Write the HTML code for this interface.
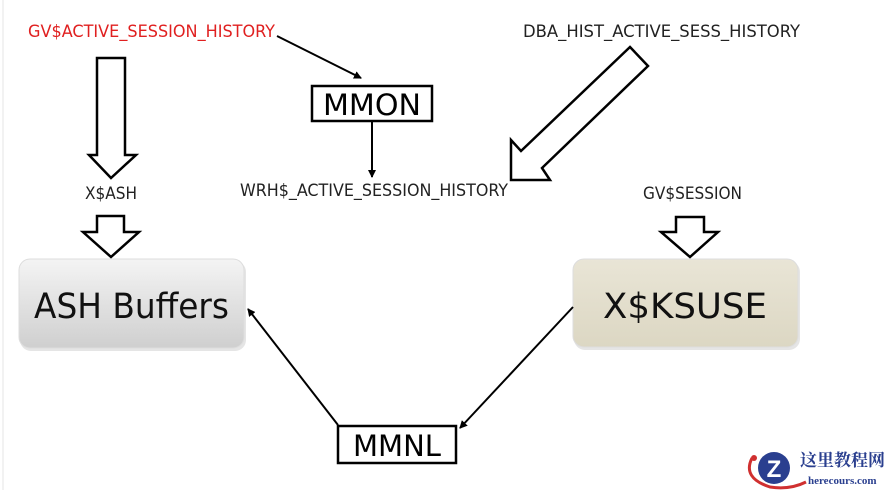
<!DOCTYPE html>
<html><head><meta charset="utf-8"><style>
html,body{margin:0;padding:0;background:#fff;}
svg{display:block}
.m{font-family:"DejaVu Sans Condensed","Liberation Sans",sans-serif;font-size:17px;}
</style></head><body>
<svg width="889" height="490" viewBox="0 0 889 490" xmlns="http://www.w3.org/2000/svg">
<defs>
<linearGradient id="g1" x1="0" y1="0" x2="0" y2="1"><stop offset="0" stop-color="#f4f4f4"/><stop offset="1" stop-color="#cfcfcf"/></linearGradient>
<linearGradient id="g2" x1="0" y1="0" x2="0" y2="1"><stop offset="0" stop-color="#e9e5d6"/><stop offset="1" stop-color="#dcd7c3"/></linearGradient>
<marker id="ah" markerWidth="8" markerHeight="8" refX="7" refY="4" orient="auto" markerUnits="userSpaceOnUse"><path d="M0,0 L8,4 L0,8 Z" fill="#000"/></marker>
</defs>
<line x1="3" y1="0" x2="3" y2="490" stroke="#e4e4e4"/>
<text class="m" x="28" y="37" fill="#e02020" textLength="247" lengthAdjust="spacingAndGlyphs">GV$ACTIVE_SESSION_HISTORY</text>
<line x1="277" y1="36" x2="361" y2="78" stroke="#000" stroke-width="2" marker-end="url(#ah)"/>
<text class="m" x="523" y="37" fill="#222" textLength="277" lengthAdjust="spacingAndGlyphs">DBA_HIST_ACTIVE_SESS_HISTORY</text>
<path d="M97,58 L125,58 L125,155 L136,155 L111,178 L89,155 L97,155 Z" fill="#fff" stroke="#000" stroke-width="2.5"/>
<text class="m" x="111" y="199" fill="#222" text-anchor="middle" textLength="52" lengthAdjust="spacingAndGlyphs">X$ASH</text>
<path d="M97,216 L124,216 L124,232 L139,232 L111,257 L83,232 L97,232 Z" fill="#fff" stroke="#000" stroke-width="2.5"/>
<rect x="312" y="86" width="120" height="35" fill="#fff" stroke="#000" stroke-width="2.5"/>
<text x="372" y="115" font-family="'DejaVu Sans','Liberation Sans',sans-serif" font-size="29" text-anchor="middle" textLength="98" lengthAdjust="spacingAndGlyphs">MMON</text>
<line x1="372" y1="121" x2="372" y2="177" stroke="#000" stroke-width="2" marker-end="url(#ah)"/>
<text class="m" x="240" y="196" fill="#222" textLength="268" lengthAdjust="spacingAndGlyphs">WRH$_ACTIVE_SESSION_HISTORY</text>
<path d="M630,47 L648,66 L542,168 L550,180 L511,180 L511,140 L521,151 Z" fill="#fff" stroke="#000" stroke-width="2.5"/>
<text class="m" x="643" y="199" fill="#222" textLength="99" lengthAdjust="spacingAndGlyphs">GV$SESSION</text>
<path d="M676,217 L704,217 L704,232 L718,232 L690,257 L661,232 L676,232 Z" fill="#fff" stroke="#000" stroke-width="2.5"/>
<rect x="20" y="261" width="226" height="90" rx="11" fill="#ccc" opacity="0.5"/>
<rect x="19" y="259" width="225" height="89" rx="11" fill="url(#g1)" stroke="#ddd"/>
<text x="34" y="318" font-family="'DejaVu Sans','Liberation Sans',sans-serif" font-size="35" textLength="195" lengthAdjust="spacingAndGlyphs" fill="#111">ASH Buffers</text>
<rect x="574" y="261" width="226" height="89" rx="11" fill="#ccc" opacity="0.5"/>
<rect x="573" y="259" width="225" height="88" rx="11" fill="url(#g2)" stroke="#ddd"/>
<text x="685" y="318" font-family="'DejaVu Sans','Liberation Sans',sans-serif" font-size="35" text-anchor="middle" textLength="164" lengthAdjust="spacingAndGlyphs" fill="#111">X$KSUSE</text>
<rect x="338" y="426" width="118" height="37" fill="#fff" stroke="#000" stroke-width="2.5"/>
<text x="397" y="456" font-family="'DejaVu Sans','Liberation Sans',sans-serif" font-size="29" text-anchor="middle" textLength="88" lengthAdjust="spacingAndGlyphs">MMNL</text>
<line x1="338" y1="425" x2="248" y2="309" stroke="#000" stroke-width="2" marker-end="url(#ah)"/>
<line x1="573" y1="307" x2="460" y2="428" stroke="#000" stroke-width="2" marker-end="url(#ah)"/>
<path d="M752,458 Q742,478 770,487 Q790,490 806,482" fill="none" stroke="#d03030" stroke-width="3"/>
<circle cx="754" cy="458" r="3" fill="#d03030"/>
<circle cx="774" cy="468" r="16" fill="#2a3f8f"/>
<text x="774" y="477" font-family="'Liberation Sans',sans-serif" font-weight="bold" font-size="24" fill="#fff" text-anchor="middle">Z</text>
<text x="800" y="466" font-family="'Liberation Serif','Noto Serif CJK SC',serif" font-weight="bold" font-size="17" fill="#2a3f8f">这里教程网</text>
<text x="808" y="484" font-family="'Liberation Serif',serif" font-weight="bold" font-size="11" fill="#2a3f8f">herecours.com</text>
</svg>
</body></html>
